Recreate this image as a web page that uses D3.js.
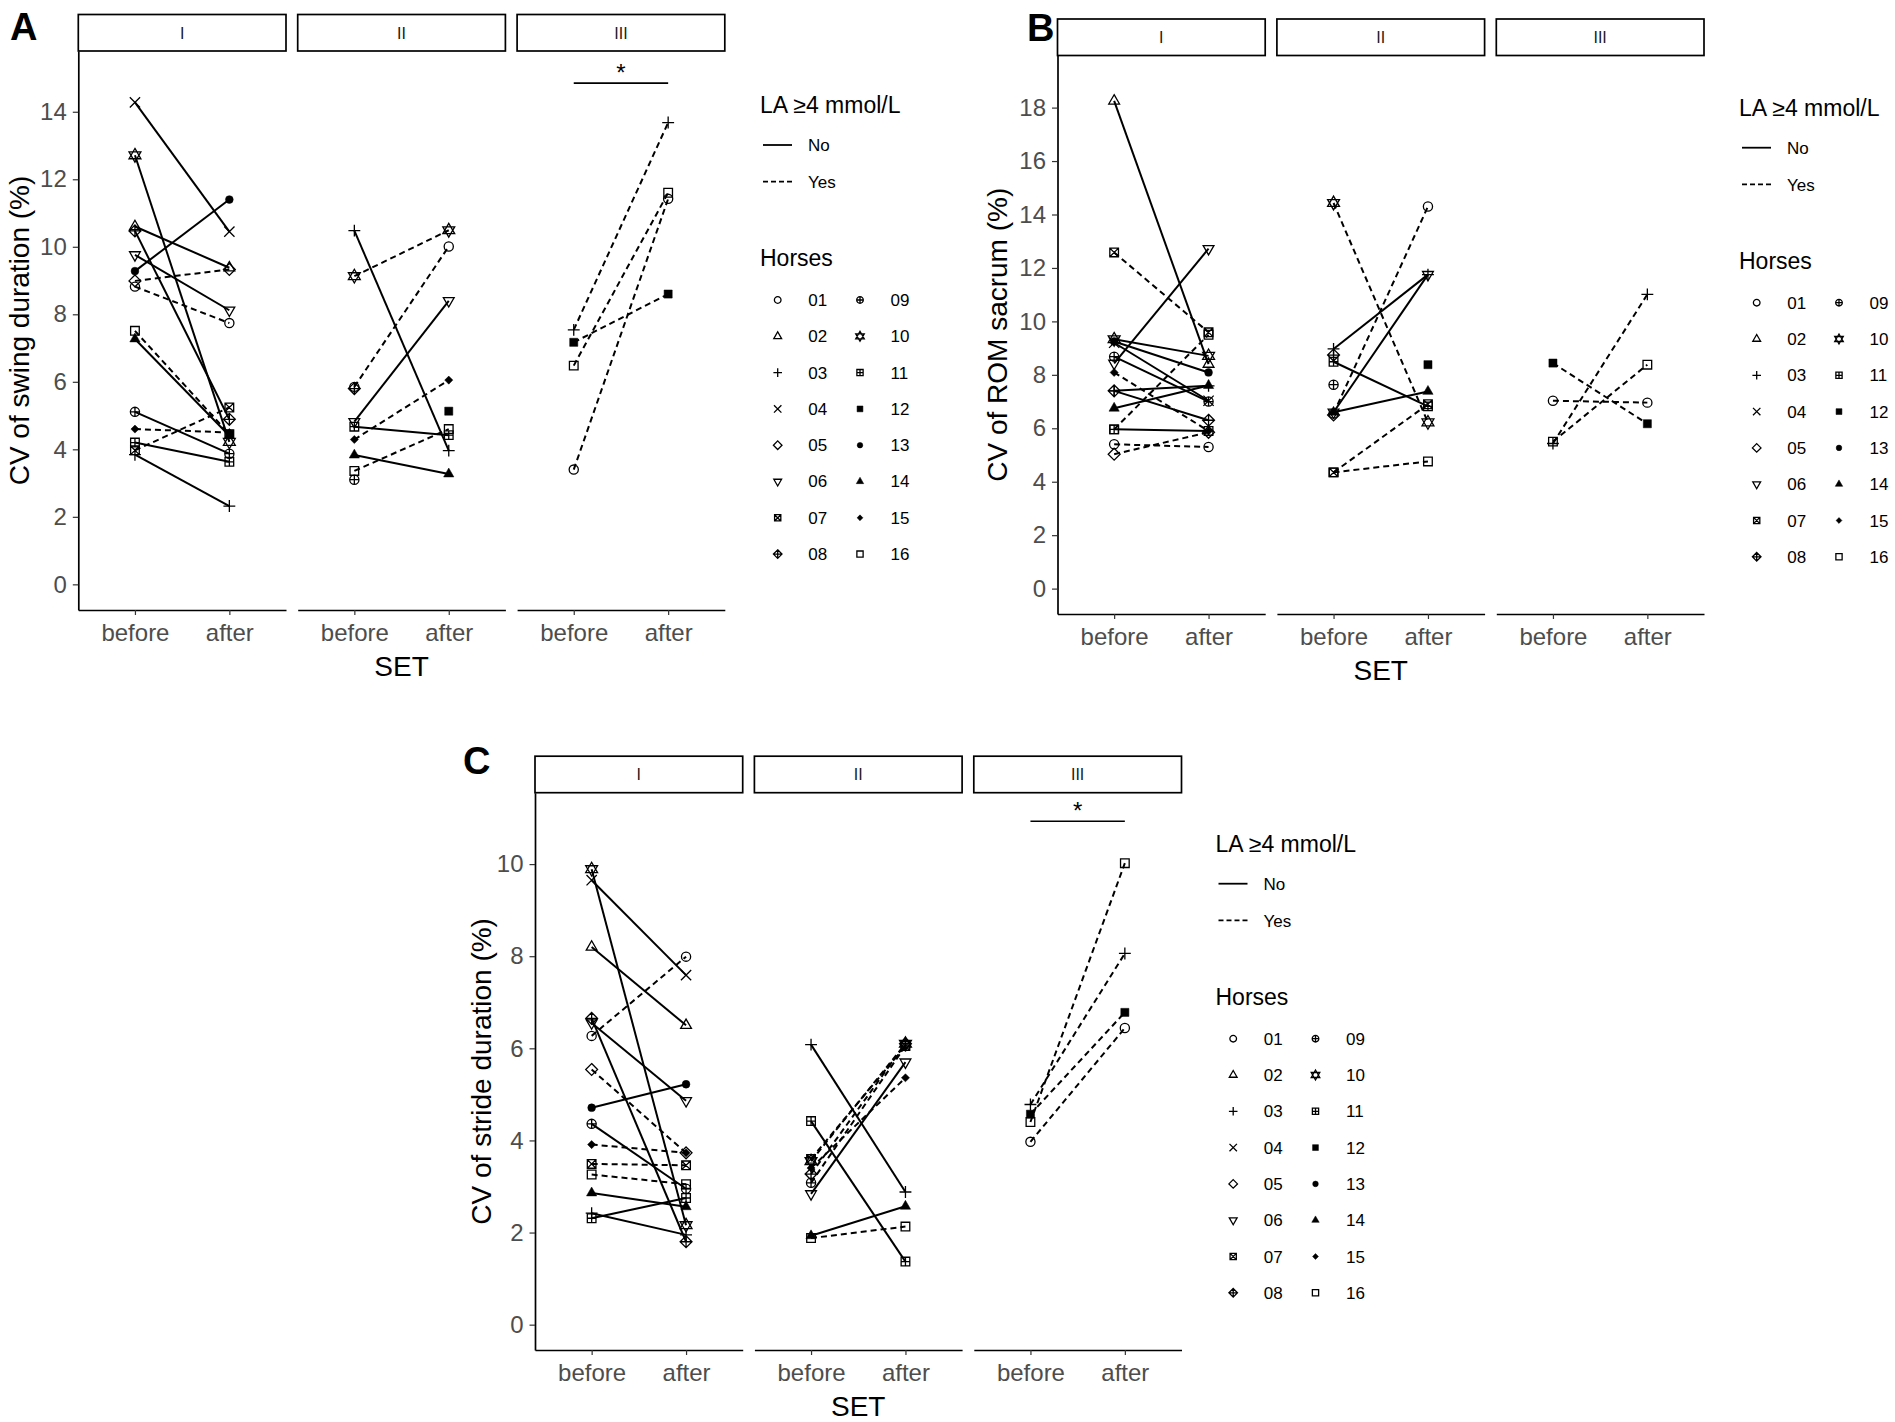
<!DOCTYPE html>
<html>
<head>
<meta charset="utf-8">
<script src="https://cdn.jsdelivr.net/npm/d3@7"></script>
<style>
  body { margin: 0; background: #fff; }
  svg { display: block; }
  text { font-family: "Liberation Sans", Arial, sans-serif; }
</style>
</head>
<body>
<div id="chart"></div>
<script>
var W = 1895, H = 1422;

var horses = ["01","02","03","04","05","06","07","08","09","10","11","12","13","14","15","16"];
// ggplot shape codes used for each horse
var shapes = [1, 2, 3, 4, 5, 6, 7, 9, 10, 11, 12, 15, 16, 17, 18, 0];
var sets = ["I", "II", "III"];
var times = ["before", "after"];
var laLevels = ["No", "Yes"];

// rows: horse, before, after, LA >= 4 mmol/L
var swingI = [
  ["01", 8.82, 7.74, "Yes"], ["02", 10.6, 9.38, "No"], ["03", 3.84, 2.32, "No"],
  ["04", 14.28, 10.45, "No"], ["05", 8.99, 9.33, "Yes"], ["06", 9.76, 8.12, "No"],
  ["07", 3.97, 5.24, "Yes"], ["08", 10.47, 4.89, "No"], ["09", 5.11, 3.87, "No"],
  ["10", 12.71, 4.22, "No"], ["11", 4.2, 3.63, "No"], ["12", null, 4.45, "No"],
  ["13", 9.28, 11.4, "No"], ["14", 7.27, 4.4, "No"], ["15", 4.6, 4.5, "Yes"],
  ["16", 7.51, 4.45, "Yes"]
];
var swingII = [
  ["01", 5.85, 10.01, "Yes"], ["03", 10.48, 3.96, "No"], ["06", 4.82, 8.4, "No"],
  ["08", 5.8, null, "Yes"], ["09", 3.1, null, "Yes"], ["10", 9.13, 10.49, "Yes"],
  ["11", 4.67, 4.42, "No"], ["12", null, 5.13, "No"], ["14", 3.83, 3.27, "No"],
  ["15", 4.29, 6.05, "Yes"], ["16", 3.36, 4.6, "Yes"]
];
var swingIII = [
  ["01", 3.4, 11.42, "Yes"], ["03", 7.54, 13.68, "Yes"],
  ["12", 7.17, 8.6, "Yes"], ["16", 6.48, 11.6, "Yes"]
];

var romI = [
  ["01", 5.4, 5.3, "Yes"], ["02", 18.25, 8.4, "No"], ["03", 7.4, 7.59, "No"],
  ["04", 9.2, 7.03, "No"], ["05", 5.03, 5.85, "Yes"], ["06", 8.43, 12.72, "No"],
  ["07", 12.58, 9.59, "Yes"], ["08", 7.4, 6.3, "No"], ["09", 8.68, 7.0, "No"],
  ["10", 9.33, 8.71, "No"], ["11", 5.96, 5.9, "No"], ["13", 9.25, 8.09, "No"],
  ["14", 6.75, 7.6, "No"], ["15", 8.09, 5.9, "Yes"], ["16", 5.96, 9.5, "Yes"]
];
var romII = [
  ["01", 6.55, 14.3, "Yes"], ["03", 8.97, 11.75, "No"], ["05", 6.5, null, "No"],
  ["06", 6.6, 11.75, "No"], ["07", 4.35, 6.9, "Yes"], ["08", 8.74, null, "No"],
  ["09", 7.63, null, "No"], ["10", 14.43, 6.22, "Yes"], ["11", 8.49, 6.82, "No"],
  ["12", null, 8.38, "No"], ["14", 6.6, 7.38, "No"], ["16", 4.35, 4.76, "Yes"]
];
var romIII = [
  ["01", 7.03, 6.96, "Yes"], ["03", 5.43, 11.01, "Yes"],
  ["12", 8.44, 6.17, "Yes"], ["16", 5.5, 8.38, "Yes"]
];

var strideI = [
  ["01", 6.27, 7.99, "Yes"], ["02", 8.2, 6.5, "No"], ["03", 2.42, 1.95, "No"],
  ["04", 9.65, 7.59, "No"], ["05", 5.54, 3.73, "Yes"], ["06", 6.55, 4.86, "No"],
  ["07", 3.49, 3.46, "Yes"], ["08", 6.65, 1.8, "No"], ["09", 4.36, 2.95, "No"],
  ["10", 9.89, 2.16, "No"], ["11", 2.31, 2.75, "No"], ["13", 4.71, 5.22, "No"],
  ["14", 2.86, 2.56, "No"], ["15", 3.91, 3.73, "Yes"], ["16", 3.26, 3.05, "Yes"]
];
var strideII = [
  ["03", 6.08, 2.88, "No"], ["06", 2.84, 5.7, "No"], ["07", 3.6, 6.05, "Yes"],
  ["08", 3.27, 6.1, "Yes"], ["09", 3.08, 6.05, "Yes"], ["10", 3.55, 6.1, "Yes"],
  ["11", 4.42, 1.37, "No"], ["14", 1.93, 2.57, "No"], ["15", 3.4, 5.36, "Yes"],
  ["16", 1.88, 2.13, "Yes"]
];
var strideIII = [
  ["01", 3.97, 6.44, "Yes"], ["03", 4.78, 8.06, "Yes"],
  ["12", 4.57, 6.78, "Yes"], ["16", 4.4, 10.02, "Yes"]
];

var swingTicks = [0, 2, 4, 6, 8, 10, 12, 14];
var romTicks = [0, 2, 4, 6, 8, 10, 12, 14, 16, 18];
var strideTicks = [0, 2, 4, 6, 8, 10];

// significance bracket height (data units) in set III, "*"
var swingSig = 14.85;
var strideSig = 10.93;

var facetW = 207.7, facetGap = 11.7, stripH = 36.5;
var dash = "6,4";

var svg = d3.select("#chart").append("svg")
  .attr("width", W)
  .attr("height", H);
svg.append("rect").attr("width", W).attr("height", H).attr("fill", "#fff");

// draw one ggplot-like point shape centred at 0,0
function marker(g, code, s) {
  var filled = [15, 16, 17, 18].indexOf(code) >= 0;
  var p = d3.path();
  function circle(r) { p.moveTo(r, 0); p.arc(0, 0, r, 0, 2 * Math.PI); p.closePath(); }
  function square(h) { p.rect(-h, -h, 2 * h, 2 * h); }
  function tri(a, dir) {
    p.moveTo(0, -1.155 * a * dir); p.lineTo(a, 0.577 * a * dir); p.lineTo(-a, 0.577 * a * dir); p.closePath();
  }
  function diamond(h) { p.moveTo(0, -h); p.lineTo(h, 0); p.lineTo(0, h); p.lineTo(-h, 0); p.closePath(); }
  function plus(h) { p.moveTo(-h, 0); p.lineTo(h, 0); p.moveTo(0, -h); p.lineTo(0, h); }
  function cross(h) { p.moveTo(-h, -h); p.lineTo(h, h); p.moveTo(-h, h); p.lineTo(h, -h); }
  switch (code) {
    case 0: square(s * 0.8); break;
    case 1: circle(s * 0.85); break;
    case 2: tri(s * 1.0, 1); break;
    case 3: plus(s * 1.1); break;
    case 4: cross(s * 0.95); break;
    case 5: diamond(s * 1.1); break;
    case 6: tri(s * 1.0, -1); break;
    case 7: square(s * 0.8); cross(s * 0.8); break;
    case 9: diamond(s * 1.1); plus(s * 1.1); break;
    case 10: circle(s * 0.85); plus(s * 0.85); break;
    case 11: tri(s * 1.1, 1); tri(s * 1.1, -1); break;
    case 12: square(s * 0.8); plus(s * 0.8); break;
    case 15: square(s * 0.75); break;
    case 16: circle(s * 0.72); break;
    case 17: tri(s * 0.95, 1); break;
    case 18: diamond(s * 0.75); break;
  }
  g.append("path")
    .attr("d", p.toString())
    .attr("fill", filled ? "#000" : "none")
    .attr("stroke", "#000")
    .attr("stroke-width", filled ? 0.5 : 1.3);
}

function drawPanel(o) {
  var g = svg.append("g");
  var y = d3.scaleLinear().domain(o.yDomain).range([o.bottom, o.top]);

  // panel letter
  svg.append("text")
    .attr("x", o.letterX).attr("y", o.letterY)
    .attr("font-size", 38).attr("font-weight", "bold")
    .text(o.letter);

  // y axis (first facet only)
  var ya = g.append("g")
    .attr("transform", "translate(" + o.left + ",0)")
    .call(d3.axisLeft(y).tickValues(o.ticks).tickSize(5.5).tickSizeOuter(0).tickPadding(6));
  ya.attr("font-family", null).attr("font-size", null);
  ya.select(".domain").attr("stroke", "#000").attr("stroke-width", 1.7);
  ya.selectAll(".tick line").attr("stroke", "#333").attr("stroke-width", 1.2);
  ya.selectAll(".tick text").attr("fill", "#4d4d4d").attr("font-size", 24);

  // y title
  svg.append("text")
    .attr("transform", "translate(" + o.titleX + "," + ((o.top + o.bottom) / 2) + ") rotate(-90)")
    .attr("text-anchor", "middle").attr("dy", "0.36em")
    .attr("font-size", 28)
    .text(o.yTitle);

  o.facets.forEach(function(rows, i) {
    var fx = o.left + i * (facetW + facetGap);
    var x = d3.scalePoint().domain(times).range([fx, fx + facetW]).padding(0.6);

    // strip
    g.append("rect")
      .attr("x", fx).attr("y", o.top - stripH)
      .attr("width", facetW).attr("height", stripH)
      .attr("fill", "#fff").attr("stroke", "#000").attr("stroke-width", 1.7);
    g.append("text")
      .attr("x", fx + facetW / 2).attr("y", o.top - stripH / 2)
      .attr("dy", "0.36em").attr("text-anchor", "middle")
      .attr("font-size", 16).attr("fill", "#1a1a1a")
      .text(sets[i]);

    // x axis
    var xa = g.append("g")
      .attr("transform", "translate(0," + o.bottom + ")")
      .call(d3.axisBottom(x).tickSize(5).tickSizeOuter(0).tickPadding(8.5));
    xa.attr("font-family", null).attr("font-size", null);
    xa.select(".domain").attr("stroke", "#000").attr("stroke-width", 1.7);
    xa.selectAll(".tick line").attr("stroke", "#333").attr("stroke-width", 1.2);
    xa.selectAll(".tick text").attr("fill", "#4d4d4d").attr("font-size", 24);

    // lines for horses measured before and after
    var line = d3.line()
      .x(function(d) { return x(d[0]); })
      .y(function(d) { return y(d[1]); });
    rows.filter(function(r) { return r[1] != null && r[2] != null; }).forEach(function(r) {
      g.append("path")
        .attr("d", line([["before", r[1]], ["after", r[2]]]))
        .attr("fill", "none").attr("stroke", "#000")
        .attr("stroke-width", 2)
        .attr("stroke-dasharray", r[3] === "Yes" ? dash : null);
    });

    // points
    rows.forEach(function(r) {
      var code = shapes[horses.indexOf(r[0])];
      [1, 2].forEach(function(k) {
        if (r[k] == null) return;
        var pg = g.append("g").attr("transform", "translate(" + x(times[k - 1]) + "," + y(r[k]) + ")");
        marker(pg, code, 5.4);
      });
    });

    // significance bracket
    if (o.sig != null && i === 2) {
      g.append("line")
        .attr("x1", x("before")).attr("x2", x("after"))
        .attr("y1", y(o.sig)).attr("y2", y(o.sig))
        .attr("stroke", "#000").attr("stroke-width", 1.7);
      g.append("text")
        .attr("x", (x("before") + x("after")) / 2).attr("y", y(o.sig) - 2.3)
        .attr("text-anchor", "middle").attr("font-size", 24)
        .text("*");
    }
  });

  // x title
  svg.append("text")
    .attr("x", o.left + (3 * facetW + 2 * facetGap) / 2).attr("y", o.bottom + 66)
    .attr("text-anchor", "middle").attr("font-size", 28)
    .text("SET");

  drawLegend(o.legendX, o.legendY);
}

function drawLegend(lx, ly) {
  var g = svg.append("g").attr("transform", "translate(" + lx + "," + ly + ")");
  g.append("text").attr("x", 0).attr("y", 0).attr("font-size", 23).text("LA \u22654 mmol/L");
  laLevels.forEach(function(lv, i) {
    var cy = 31.7 + i * 36.7;
    g.append("line")
      .attr("x1", 3).attr("x2", 32).attr("y1", cy).attr("y2", cy)
      .attr("stroke", "#000").attr("stroke-width", 1.8)
      .attr("stroke-dasharray", lv === "Yes" ? "5,3" : null);
    g.append("text").attr("x", 48).attr("y", cy + 6.5).attr("font-size", 17).text(lv);
  });
  g.append("text").attr("x", 0).attr("y", 152.7).attr("font-size", 23).text("Horses");
  horses.forEach(function(h, i) {
    var col = i < 8 ? 0 : 1, row = i % 8;
    var cy = 186.7 + row * 36.3;
    var sx = col ? 100 : 17.7;
    var mg = g.append("g").attr("transform", "translate(" + sx + "," + cy + ")");
    marker(mg, shapes[i], 3.9);
    g.append("text").attr("x", sx + 30.6).attr("y", cy + 6).attr("font-size", 17).text(h);
  });
}

drawPanel({
  letter: "A", letterX: 10, letterY: 40,
  left: 78.3, top: 51, bottom: 610,
  yDomain: [-0.76, 15.8], ticks: swingTicks,
  yTitle: "CV of swing duration (%)", titleX: 19,
  facets: [swingI, swingII, swingIII], sig: swingSig,
  legendX: 760, legendY: 113.3
});

drawPanel({
  letter: "B", letterX: 1027, letterY: 41,
  left: 1057.5, top: 55.5, bottom: 614,
  yDomain: [-0.95, 19.95], ticks: romTicks,
  yTitle: "CV of ROM sacrum (%)", titleX: 997,
  facets: [romI, romII, romIII], sig: null,
  legendX: 1739, legendY: 116
});

drawPanel({
  letter: "C", letterX: 463, letterY: 774,
  left: 535, top: 792.7, bottom: 1350,
  yDomain: [-0.55, 11.55], ticks: strideTicks,
  yTitle: "CV of stride duration (%)", titleX: 481,
  facets: [strideI, strideII, strideIII], sig: strideSig,
  legendX: 1215.5, legendY: 852
});
</script>
</body>
</html>
